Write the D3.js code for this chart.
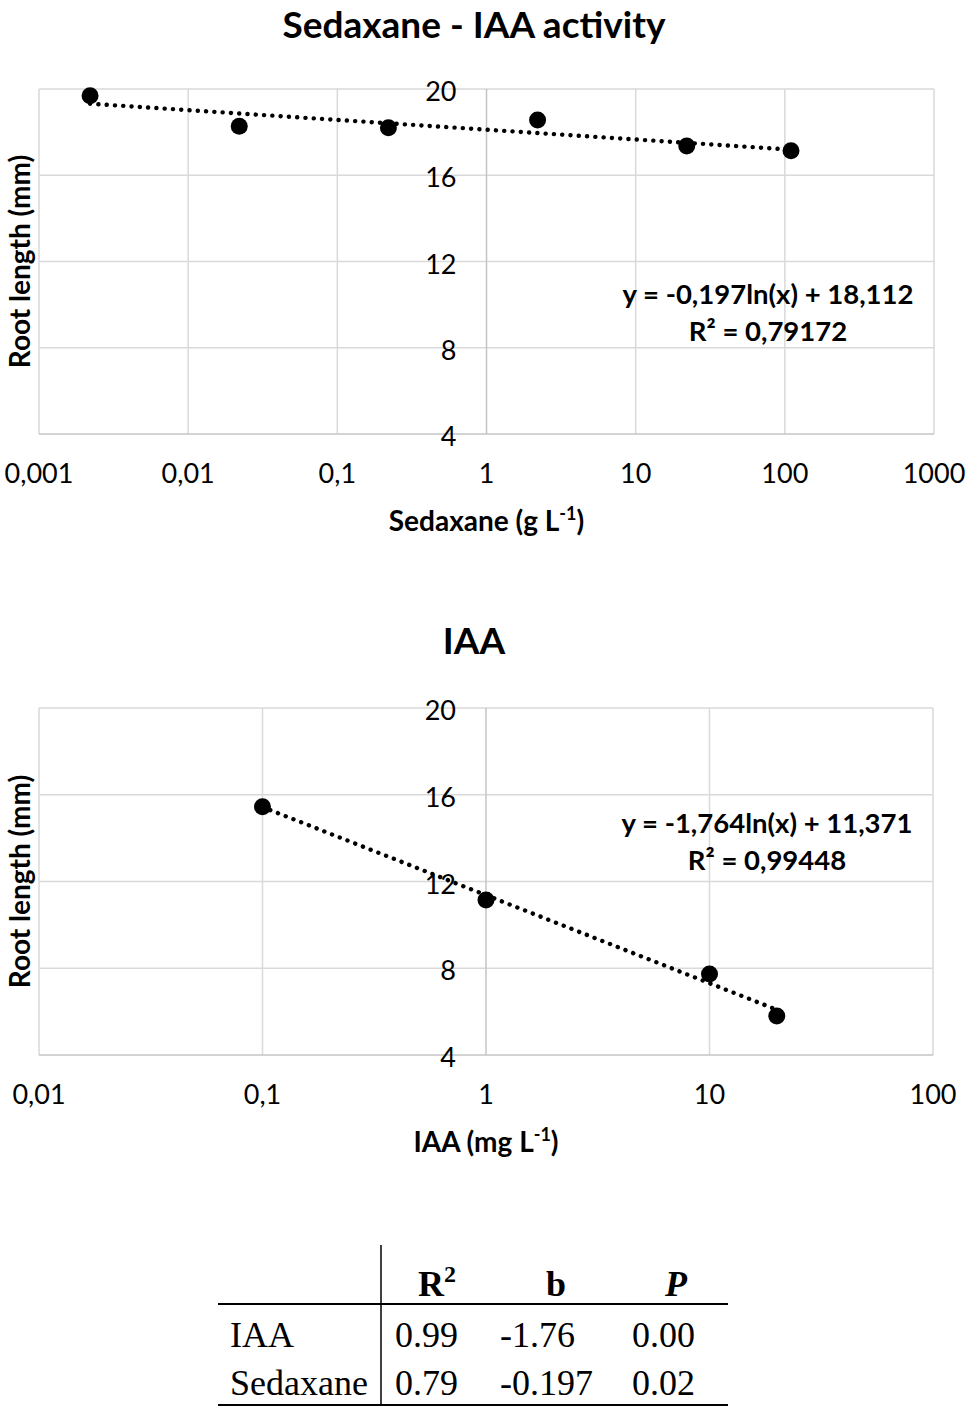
<!DOCTYPE html>
<html>
<head>
<meta charset="utf-8">
<script src="https://cdn.jsdelivr.net/npm/d3@7"></script>
<style>
  body { margin: 0; background: #fff; }
  svg { display: block; }
  .tick-label { font-family: Lato, "Open Sans", sans-serif; font-size: 27px; fill: #000; }
  .bold { font-family: Lato, "Open Sans", sans-serif; font-weight: bold; fill: #000; }
  .tbl { font-family: "Liberation Serif", "Times New Roman", serif; font-size: 36px; fill: #000; }
</style>
</head>
<body>
<svg id="chart" width="970" height="1411"></svg>
<script>
// ---- data ----
var sedaxaneDose = [0.0022, 0.022, 0.22, 2.2, 22, 110];
var sedaxaneRoot = [19.69, 18.27, 18.2, 18.56, 17.36, 17.14];
var sedaxaneFit = [-0.197, 18.112];          // slope, intercept of y = a ln(x) + b
var sedaxaneEq = ["y = -0,197ln(x) + 18,112", "R² = 0,79172"];
var sedaxaneTicks = [0.001, 0.01, 0.1, 1, 10, 100, 1000];

var iaaDose = [0.1, 1, 10, 20];
var iaaRoot = [15.45, 11.15, 7.74, 5.8];
var iaaFit = [-1.764, 11.371];
var iaaEq = ["y = -1,764ln(x) + 11,371", "R² = 0,99448"];
var iaaTicks = [0.01, 0.1, 1, 10, 100];

var rootTicks = [4, 8, 12, 16, 20];

var tableRows = ["IAA", "Sedaxane"];
var tableR2 = ["0.99", "0.79"];
var tableB = ["-1.76", "-0.197"];
var tableP = ["0.00", "0.02"];

var svg = d3.select("#chart");

var locale = d3.formatLocale({decimal: ",", thousands: ".", grouping: [3], currency: ["", ""]});
var fmt = locale.format("~g");

var drawPanel = function(opts)
{
    var g = svg.append("g");
    var x = d3.scaleLog().domain(opts.xdomain).range([opts.left, opts.right]);
    var y = d3.scaleLinear().domain([4, 20]).range([opts.bottom, opts.top]);

    // title
    g.append("text")
        .attr("class", "bold")
        .attr("x", 474).attr("y", opts.titleY)
        .attr("text-anchor", "middle")
        .style("font-size", "37px")
        .text(opts.title);

    // grid
    g.selectAll(".hgrid")
        .data(rootTicks.filter(function(d){ return d != 4; }))
        .enter().append("line")
        .attr("x1", opts.left).attr("x2", opts.right)
        .attr("y1", function(d){ return y(d); })
        .attr("y2", function(d){ return y(d); })
        .attr("stroke", "#d9d9d9").attr("stroke-width", 1.5);

    g.selectAll(".vgrid")
        .data(opts.ticks.filter(function(d){ return d != 1; }))
        .enter().append("line")
        .attr("y1", opts.top).attr("y2", opts.bottom)
        .attr("x1", function(d){ return x(d); })
        .attr("x2", function(d){ return x(d); })
        .attr("stroke", "#d9d9d9").attr("stroke-width", 1.5);

    // axis lines (x axis at y=4, y axis at x=1)
    g.append("line")
        .attr("x1", opts.left).attr("x2", opts.right)
        .attr("y1", y(4)).attr("y2", y(4))
        .attr("stroke", "#c4c4c4").attr("stroke-width", 1.5);
    g.append("line")
        .attr("x1", x(1)).attr("x2", x(1))
        .attr("y1", opts.top).attr("y2", opts.bottom)
        .attr("stroke", "#c4c4c4").attr("stroke-width", 1.5);

    // tick labels
    g.selectAll(".xlab")
        .data(opts.ticks)
        .enter().append("text")
        .attr("class", "tick-label")
        .attr("text-anchor", "middle")
        .attr("x", function(d){ return x(d); })
        .attr("y", opts.bottom + 49)
        .text(function(d){ return fmt(d); });

    g.selectAll(".ylab")
        .data(rootTicks)
        .enter().append("text")
        .attr("class", "tick-label")
        .attr("text-anchor", "end")
        .attr("x", x(1) - 30)
        .attr("y", function(d){ return y(d) + 12; })
        .text(function(d){ return d; });

    // axis titles
    var xt = g.append("text")
        .attr("class", "bold")
        .attr("text-anchor", "middle")
        .attr("x", (opts.left + opts.right) / 2)
        .attr("y", opts.bottom + 97)
        .style("font-size", "28px");
    xt.append("tspan").text(opts.xlabel + " (" + opts.unit + " L");
    xt.append("tspan").attr("dy", -11).style("font-size", "18px").text("-1");
    xt.append("tspan").attr("dy", 11).text(")");

    g.append("text")
        .attr("class", "bold")
        .attr("text-anchor", "middle")
        .attr("transform", "translate(30," + ((opts.top + opts.bottom) / 2) + ") rotate(-90)")
        .style("font-size", "28px")
        .text("Root length (mm)");

    // trend line
    var first = d3.min(opts.dose), last = d3.max(opts.dose);
    var fit = function(v){ return opts.fit[0] * Math.log(v) + opts.fit[1]; };
    g.append("line")
        .attr("x1", x(first)).attr("y1", y(fit(first)))
        .attr("x2", x(last)).attr("y2", y(fit(last)))
        .attr("stroke", "#000").attr("stroke-width", 4.4)
        .attr("stroke-linecap", "round")
        .attr("stroke-dasharray", "0.1,8.2");

    // points
    g.selectAll(".pt")
        .data(opts.dose)
        .enter().append("circle")
        .attr("cx", function(d){ return x(d); })
        .attr("cy", function(d, i){ return y(opts.root[i]); })
        .attr("r", 8.5)
        .attr("fill", "#000");

    // equation
    g.selectAll(".eq")
        .data(opts.eq)
        .enter().append("text")
        .attr("class", "bold")
        .attr("text-anchor", "middle")
        .attr("x", opts.right - 166)
        .attr("y", function(d, i){ return opts.eqY + i * 37; })
        .style("font-size", "27.5px")
        .text(function(d){ return d; });
};

drawPanel({
    title: "Sedaxane - IAA activity", titleY: 38,
    left: 39, right: 934, top: 89, bottom: 434,
    xdomain: [0.001, 1000], ticks: sedaxaneTicks,
    dose: sedaxaneDose, root: sedaxaneRoot, fit: sedaxaneFit,
    eq: sedaxaneEq, eqY: 304,
    xlabel: "Sedaxane", unit: "g"
});

drawPanel({
    title: "IAA", titleY: 654,
    left: 39, right: 933, top: 708, bottom: 1055,
    xdomain: [0.01, 100], ticks: iaaTicks,
    dose: iaaDose, root: iaaRoot, fit: iaaFit,
    eq: iaaEq, eqY: 833,
    xlabel: "IAA", unit: "mg"
});

// ---- summary table ----
var tbl = svg.append("g");
var colX = [395, 500, 632];
var headX = [437, 556, 676];

tbl.append("line").attr("x1", 381).attr("x2", 381).attr("y1", 1245).attr("y2", 1405)
    .attr("stroke", "#000").attr("stroke-width", 1.5);
tbl.append("line").attr("x1", 218).attr("x2", 728).attr("y1", 1304).attr("y2", 1304)
    .attr("stroke", "#000").attr("stroke-width", 2);
tbl.append("line").attr("x1", 218).attr("x2", 728).attr("y1", 1405).attr("y2", 1405)
    .attr("stroke", "#000").attr("stroke-width", 2);

var h1 = tbl.append("text").attr("class", "tbl").attr("x", headX[0]).attr("y", 1296)
    .attr("text-anchor", "middle").style("font-weight", "bold");
h1.append("tspan").text("R");
h1.append("tspan").attr("dy", -14).style("font-size", "24px").text("2");
tbl.append("text").attr("class", "tbl").attr("x", headX[1]).attr("y", 1296)
    .attr("text-anchor", "middle").style("font-weight", "bold").text("b");
tbl.append("text").attr("class", "tbl").attr("x", headX[2]).attr("y", 1296)
    .attr("text-anchor", "middle").style("font-weight", "bold").style("font-style", "italic").text("P");

tableRows.forEach(function(name, i)
{
    var yy = 1347 + i * 48;
    tbl.append("text").attr("class", "tbl").attr("x", 230).attr("y", yy).text(name);
    [tableR2[i], tableB[i], tableP[i]].forEach(function(v, j)
    {
        tbl.append("text").attr("class", "tbl").attr("x", colX[j]).attr("y", yy).text(v);
    });
});
</script>
</body>
</html>
